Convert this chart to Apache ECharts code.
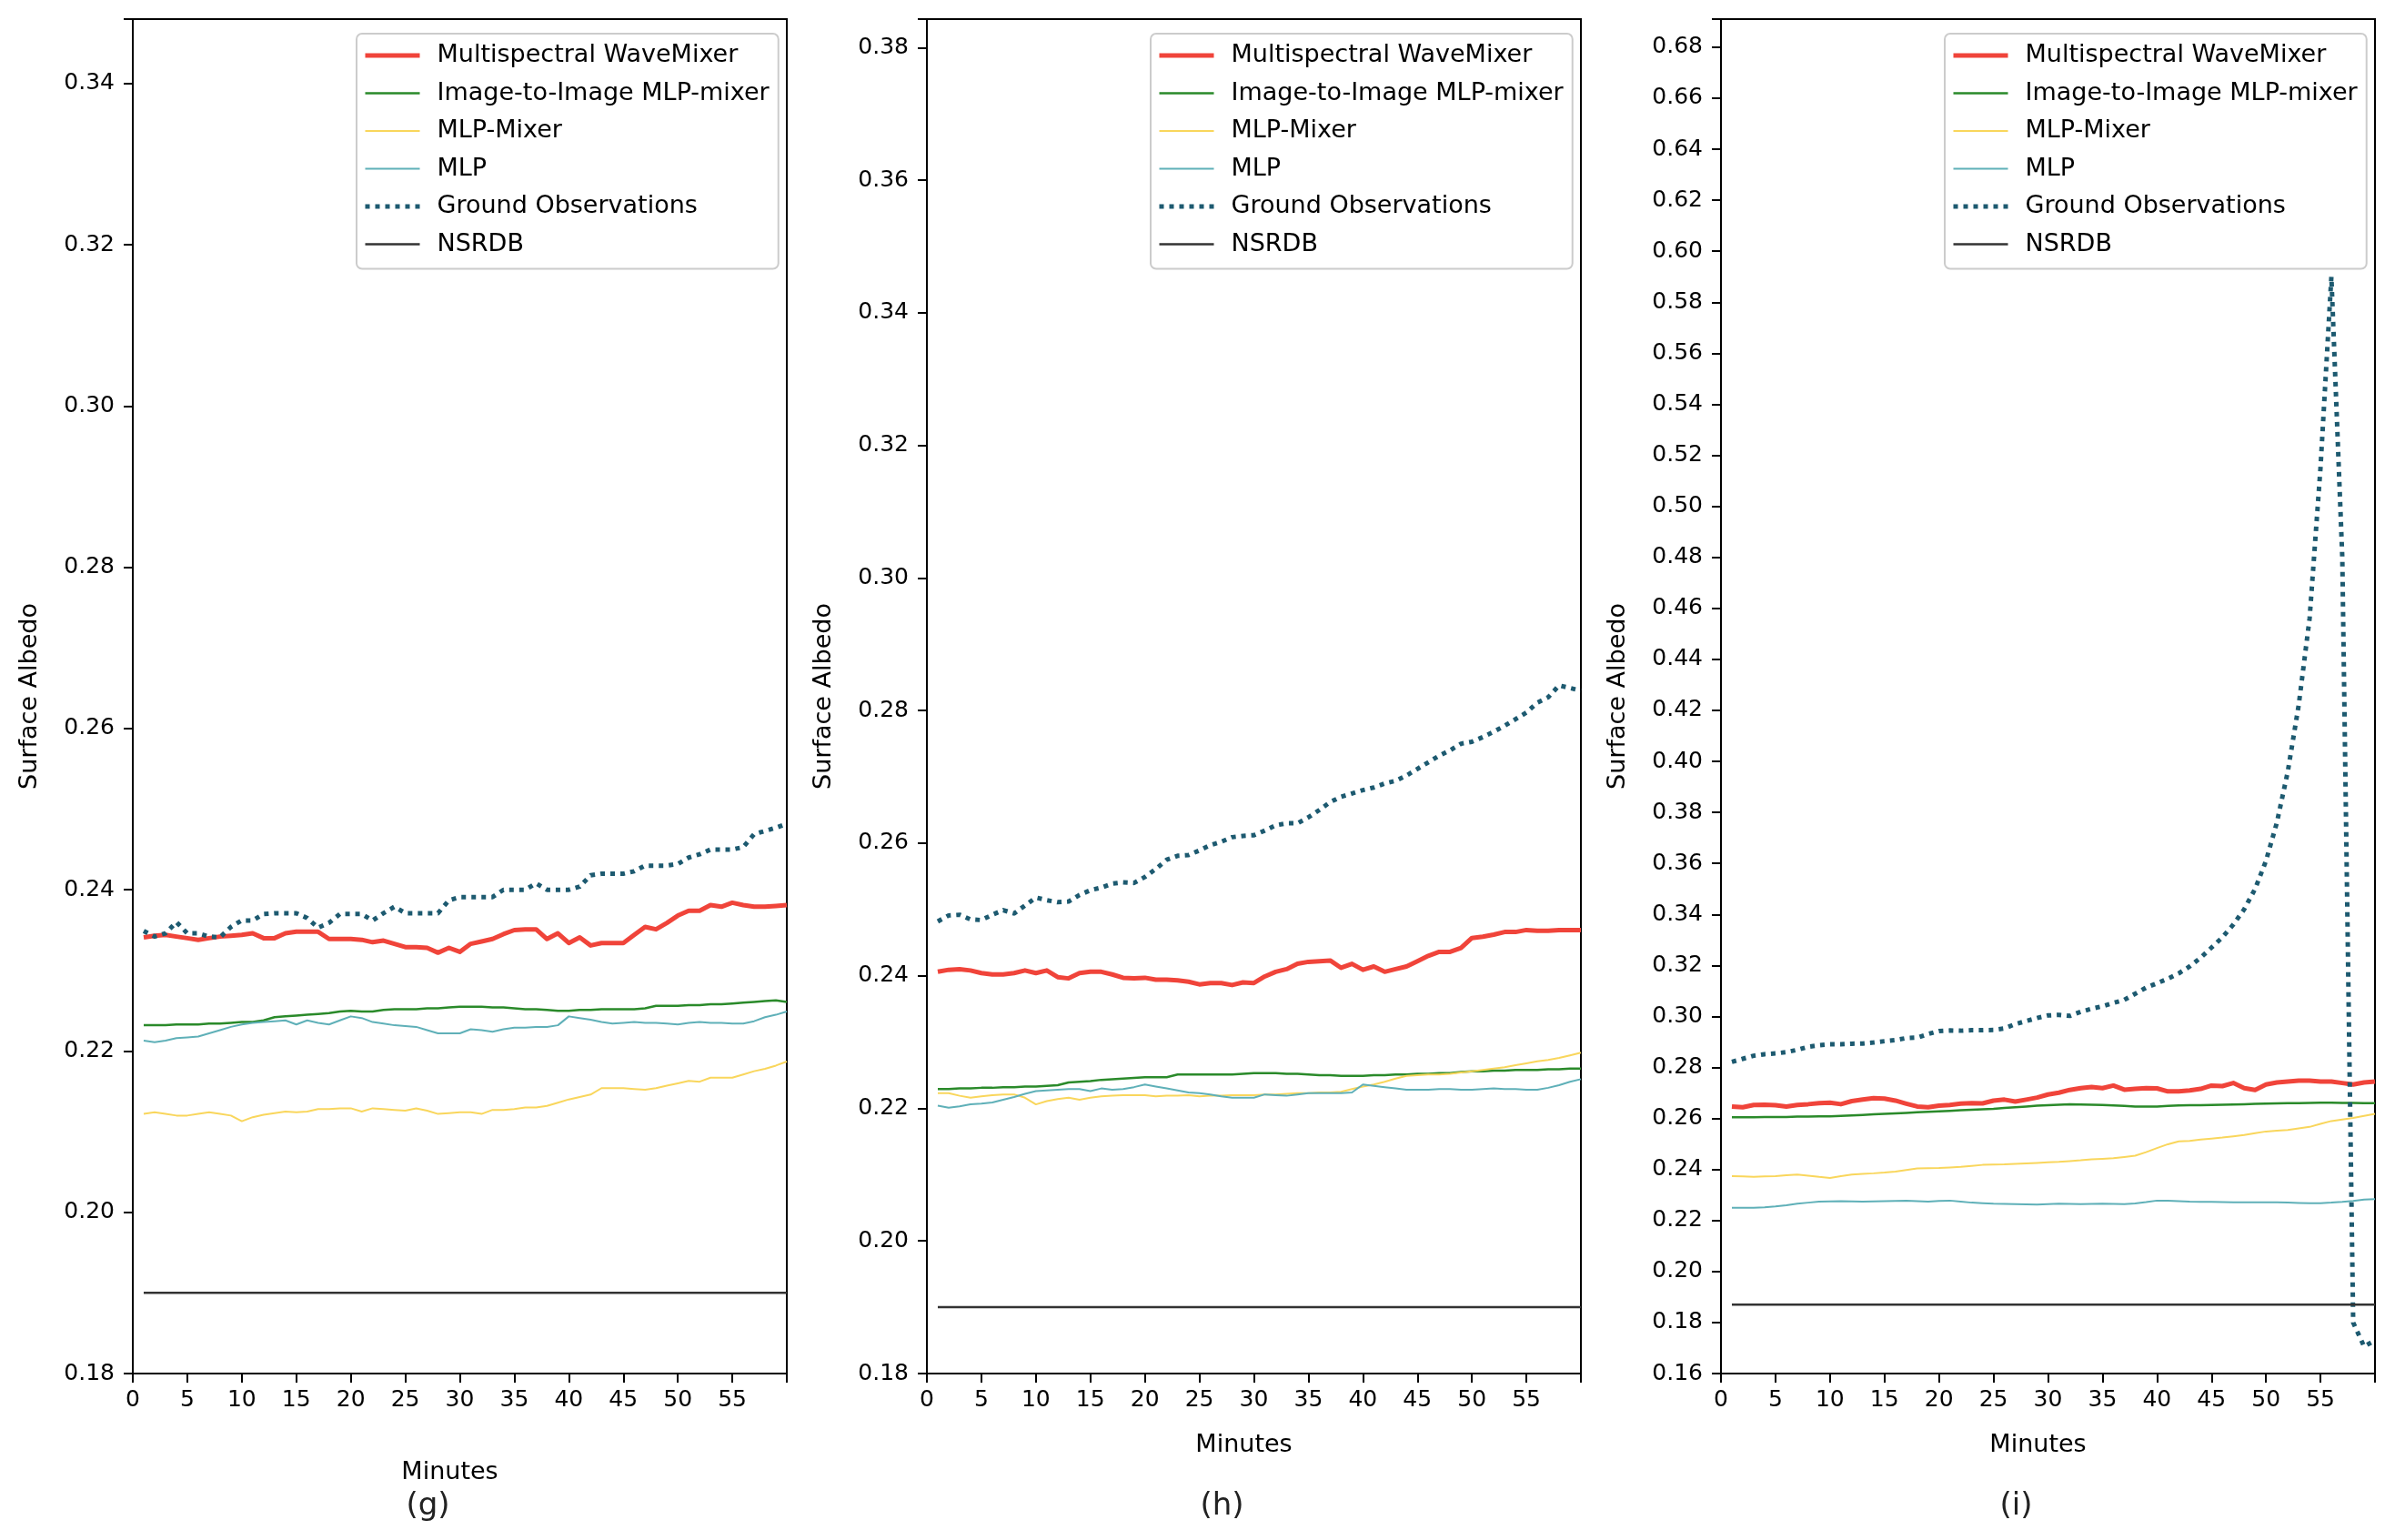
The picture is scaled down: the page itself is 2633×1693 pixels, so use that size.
<!DOCTYPE html>
<html>
<head>
<meta charset="utf-8">
<script src="https://cdn.jsdelivr.net/npm/echarts@6/dist/echarts.min.js"></script>
<style>
html,body{margin:0;padding:0;background:#fff;}
#chart{width:2633px;height:1693px;}
</style>
</head>
<body>
<div id="chart"></div>
<script>
// ---------- data ----------
const minutes = [1,2,3,4,5,6,7,8,9,10,11,12,13,14,15,16,17,18,19,20,21,22,23,24,25,26,27,28,29,30,31,32,33,34,35,36,37,38,39,40,41,42,43,44,45,46,47,48,49,50,51,52,53,54,55,56,57,58,59,60];
const xTicks = [0,5,10,15,20,25,30,35,40,45,50,55];
const seriesNames = ['Multispectral WaveMixer','Image-to-Image MLP-mixer','MLP-Mixer','MLP','Ground Observations','NSRDB'];
const panelLabels = ['(g)','(h)','(i)'];

// panel (g)
const gWaveMixer = [0.2341,0.2343,0.2344,0.2342,0.2340,0.2338,0.2340,0.2342,0.2343,0.2344,0.2346,0.2340,0.2340,0.2346,0.2348,0.2348,0.2348,0.2339,0.2339,0.2339,0.2338,0.2335,0.2337,0.2333,0.2329,0.2329,0.2328,0.2322,0.2328,0.2323,0.2333,0.2336,0.2339,0.2345,0.2350,0.2351,0.2351,0.2339,0.2346,0.2334,0.2341,0.2331,0.2334,0.2334,0.2334,0.2344,0.2354,0.2351,0.2359,0.2368,0.2374,0.2374,0.2381,0.2379,0.2384,0.2381,0.2379,0.2379,0.2380,0.2381];
const gI2IMixer = [0.2232,0.2232,0.2232,0.2233,0.2233,0.2233,0.2234,0.2234,0.2235,0.2236,0.2236,0.2238,0.2242,0.2243,0.2244,0.2245,0.2246,0.2247,0.2249,0.2250,0.2249,0.2249,0.2251,0.2252,0.2252,0.2252,0.2253,0.2253,0.2254,0.2255,0.2255,0.2255,0.2254,0.2254,0.2253,0.2252,0.2252,0.2251,0.2250,0.2250,0.2251,0.2251,0.2252,0.2252,0.2252,0.2252,0.2253,0.2256,0.2256,0.2256,0.2257,0.2257,0.2258,0.2258,0.2259,0.2260,0.2261,0.2262,0.2263,0.2261];
const gMLPMixer = [0.2122,0.2124,0.2122,0.2120,0.2120,0.2122,0.2124,0.2122,0.2120,0.2113,0.2118,0.2121,0.2123,0.2125,0.2124,0.2125,0.2128,0.2128,0.2129,0.2129,0.2125,0.2129,0.2128,0.2127,0.2126,0.2129,0.2126,0.2122,0.2123,0.2124,0.2124,0.2122,0.2127,0.2127,0.2128,0.2130,0.2130,0.2132,0.2136,0.2140,0.2143,0.2146,0.2154,0.2154,0.2154,0.2153,0.2152,0.2154,0.2157,0.2160,0.2163,0.2162,0.2167,0.2167,0.2167,0.2171,0.2175,0.2178,0.2182,0.2187];
const gMLP = [0.2213,0.2211,0.2213,0.2216,0.2217,0.2218,0.2222,0.2226,0.2230,0.2233,0.2235,0.2236,0.2237,0.2238,0.2233,0.2238,0.2235,0.2233,0.2238,0.2243,0.2241,0.2236,0.2234,0.2232,0.2231,0.2230,0.2226,0.2222,0.2222,0.2222,0.2227,0.2226,0.2224,0.2227,0.2229,0.2229,0.2230,0.2230,0.2232,0.2243,0.2241,0.2239,0.2236,0.2234,0.2235,0.2236,0.2235,0.2235,0.2234,0.2233,0.2235,0.2236,0.2235,0.2235,0.2234,0.2234,0.2237,0.2242,0.2245,0.2249];
const gGround = [0.2349,0.2342,0.2346,0.2360,0.2346,0.2346,0.2342,0.2341,0.2354,0.2362,0.2362,0.2370,0.2371,0.2371,0.2371,0.2365,0.2353,0.2359,0.2370,0.2370,0.2370,0.2362,0.2371,0.2379,0.2371,0.2371,0.2371,0.2371,0.2387,0.2391,0.2391,0.2391,0.2391,0.2400,0.2400,0.2400,0.2408,0.2400,0.2400,0.2400,0.2404,0.2418,0.2420,0.2420,0.2420,0.2423,0.2430,0.2430,0.2430,0.2432,0.2440,0.2444,0.2450,0.2450,0.2450,0.2453,0.2469,0.2473,0.2477,0.2482];
const gNSRDB = [0.19,0.19,0.19,0.19,0.19,0.19,0.19,0.19,0.19,0.19,0.19,0.19,0.19,0.19,0.19,0.19,0.19,0.19,0.19,0.19,0.19,0.19,0.19,0.19,0.19,0.19,0.19,0.19,0.19,0.19,0.19,0.19,0.19,0.19,0.19,0.19,0.19,0.19,0.19,0.19,0.19,0.19,0.19,0.19,0.19,0.19,0.19,0.19,0.19,0.19,0.19,0.19,0.19,0.19,0.19,0.19,0.19,0.19,0.19,0.19];

// panel (h)
const hWaveMixer = [0.2406,0.2409,0.2410,0.2408,0.2404,0.2402,0.2402,0.2404,0.2408,0.2404,0.2408,0.2398,0.2396,0.2404,0.2406,0.2406,0.2402,0.2397,0.2396,0.2397,0.2394,0.2394,0.2393,0.2391,0.2387,0.2389,0.2389,0.2386,0.2390,0.2389,0.2399,0.2406,0.2410,0.2418,0.2421,0.2422,0.2423,0.2412,0.2418,0.2409,0.2414,0.2406,0.2410,0.2414,0.2422,0.2430,0.2436,0.2436,0.2442,0.2457,0.2459,0.2462,0.2466,0.2466,0.2469,0.2468,0.2468,0.2469,0.2469,0.2469];
const hI2IMixer = [0.2229,0.2229,0.2230,0.2230,0.2231,0.2231,0.2232,0.2232,0.2233,0.2233,0.2234,0.2235,0.2239,0.2240,0.2241,0.2243,0.2244,0.2245,0.2246,0.2247,0.2247,0.2247,0.2251,0.2251,0.2251,0.2251,0.2251,0.2251,0.2252,0.2253,0.2253,0.2253,0.2252,0.2252,0.2251,0.2250,0.2250,0.2249,0.2249,0.2249,0.2250,0.2250,0.2251,0.2251,0.2252,0.2252,0.2253,0.2253,0.2255,0.2256,0.2256,0.2257,0.2257,0.2258,0.2258,0.2258,0.2259,0.2259,0.2260,0.2260];
const hMLPMixer = [0.2223,0.2223,0.2219,0.2216,0.2218,0.2220,0.2221,0.2221,0.2216,0.2206,0.2211,0.2214,0.2216,0.2213,0.2216,0.2218,0.2219,0.2220,0.2220,0.2220,0.2218,0.2219,0.2219,0.2220,0.2218,0.2219,0.2219,0.2220,0.2220,0.2220,0.2221,0.2221,0.2222,0.2223,0.2223,0.2224,0.2224,0.2225,0.2229,0.2233,0.2236,0.2240,0.2245,0.2249,0.2250,0.2251,0.2251,0.2252,0.2254,0.2256,0.2258,0.2260,0.2262,0.2265,0.2268,0.2271,0.2273,0.2276,0.2280,0.2284];
const hMLP = [0.2204,0.2201,0.2203,0.2206,0.2207,0.2209,0.2213,0.2217,0.2222,0.2226,0.2227,0.2228,0.2229,0.2229,0.2226,0.2230,0.2228,0.2229,0.2232,0.2236,0.2233,0.2230,0.2227,0.2224,0.2223,0.2221,0.2218,0.2216,0.2216,0.2216,0.2221,0.2220,0.2219,0.2221,0.2223,0.2223,0.2223,0.2223,0.2224,0.2236,0.2234,0.2232,0.2230,0.2228,0.2228,0.2228,0.2229,0.2229,0.2228,0.2228,0.2229,0.2230,0.2229,0.2229,0.2228,0.2228,0.2231,0.2235,0.2240,0.2244];
const hGround = [0.2482,0.2491,0.2492,0.2485,0.2484,0.2492,0.2499,0.2494,0.2506,0.2518,0.2514,0.2511,0.2512,0.2522,0.2529,0.2533,0.2539,0.2541,0.2540,0.2549,0.2561,0.2575,0.2581,0.2582,0.2589,0.2597,0.2602,0.2609,0.2611,0.2612,0.2619,0.2627,0.2630,0.2630,0.2639,0.2650,0.2662,0.2670,0.2675,0.2680,0.2684,0.2690,0.2694,0.2702,0.2712,0.2722,0.2732,0.2740,0.2750,0.2753,0.2760,0.2768,0.2777,0.2787,0.2797,0.2812,0.2820,0.2838,0.2834,0.2830];
const hNSRDB = [0.19,0.19,0.19,0.19,0.19,0.19,0.19,0.19,0.19,0.19,0.19,0.19,0.19,0.19,0.19,0.19,0.19,0.19,0.19,0.19,0.19,0.19,0.19,0.19,0.19,0.19,0.19,0.19,0.19,0.19,0.19,0.19,0.19,0.19,0.19,0.19,0.19,0.19,0.19,0.19,0.19,0.19,0.19,0.19,0.19,0.19,0.19,0.19,0.19,0.19,0.19,0.19,0.19,0.19,0.19,0.19,0.19,0.19,0.19,0.19];

// panel (i)
const iWaveMixer = [0.2647,0.2644,0.2653,0.2654,0.2652,0.2647,0.2653,0.2656,0.2660,0.2662,0.2656,0.2668,0.2674,0.2680,0.2678,0.2670,0.2658,0.2647,0.2644,0.2650,0.2653,0.2658,0.2660,0.2659,0.2670,0.2674,0.2666,0.2674,0.2682,0.2694,0.2701,0.2712,0.2719,0.2723,0.2719,0.2729,0.2713,0.2716,0.2719,0.2718,0.2706,0.2706,0.2710,0.2716,0.2729,0.2727,0.2739,0.2719,0.2712,0.2733,0.2741,0.2745,0.2748,0.2748,0.2745,0.2745,0.2739,0.2733,0.2741,0.2745];
const iI2IMixer = [0.2605,0.2605,0.2605,0.2606,0.2606,0.2606,0.2607,0.2607,0.2608,0.2608,0.2610,0.2612,0.2614,0.2616,0.2618,0.2620,0.2622,0.2624,0.2626,0.2628,0.2630,0.2632,0.2634,0.2636,0.2638,0.2641,0.2644,0.2647,0.2650,0.2652,0.2654,0.2656,0.2655,0.2654,0.2653,0.2651,0.2649,0.2647,0.2647,0.2647,0.2649,0.2651,0.2652,0.2652,0.2653,0.2654,0.2655,0.2656,0.2657,0.2658,0.2659,0.2660,0.2660,0.2661,0.2662,0.2662,0.2661,0.2661,0.2660,0.2660];
const iMLPMixer = [0.2374,0.2373,0.2371,0.2373,0.2374,0.2377,0.2380,0.2376,0.2371,0.2367,0.2374,0.2380,0.2383,0.2385,0.2388,0.2392,0.2398,0.2404,0.2405,0.2406,0.2408,0.2410,0.2414,0.2418,0.2419,0.2420,0.2422,0.2424,0.2426,0.2428,0.2430,0.2433,0.2436,0.2440,0.2442,0.2444,0.2449,0.2454,0.2468,0.2484,0.2499,0.2510,0.2512,0.2517,0.2521,0.2525,0.2530,0.2535,0.2542,0.2549,0.2552,0.2555,0.2561,0.2567,0.2579,0.2590,0.2596,0.2602,0.2610,0.2618];
const iMLP = [0.2250,0.2250,0.2250,0.2252,0.2255,0.2260,0.2266,0.2270,0.2274,0.2275,0.2276,0.2275,0.2274,0.2275,0.2276,0.2277,0.2278,0.2276,0.2274,0.2277,0.2278,0.2274,0.2270,0.2268,0.2266,0.2265,0.2264,0.2263,0.2262,0.2264,0.2266,0.2265,0.2264,0.2265,0.2266,0.2265,0.2264,0.2267,0.2272,0.2278,0.2278,0.2276,0.2274,0.2273,0.2273,0.2272,0.2271,0.2271,0.2271,0.2271,0.2271,0.2270,0.2269,0.2268,0.2268,0.2270,0.2273,0.2277,0.2282,0.2284];
const iGround = [0.2822,0.2834,0.2846,0.2852,0.2855,0.2860,0.2869,0.2881,0.2887,0.2891,0.2891,0.2893,0.2894,0.2898,0.2903,0.2907,0.2915,0.2917,0.2931,0.2943,0.2945,0.2944,0.2946,0.2946,0.2947,0.2953,0.2970,0.2982,0.2994,0.3004,0.3006,0.3002,0.3018,0.3030,0.3040,0.3053,0.3065,0.3089,0.3113,0.3130,0.3148,0.3169,0.3196,0.3230,0.3270,0.3310,0.3360,0.3420,0.3500,0.3610,0.3760,0.3960,0.4220,0.4560,0.5150,0.5900,0.4800,0.1800,0.1706,0.1730];
const iNSRDB = [0.187,0.187,0.187,0.187,0.187,0.187,0.187,0.187,0.187,0.187,0.187,0.187,0.187,0.187,0.187,0.187,0.187,0.187,0.187,0.187,0.187,0.187,0.187,0.187,0.187,0.187,0.187,0.187,0.187,0.187,0.187,0.187,0.187,0.187,0.187,0.187,0.187,0.187,0.187,0.187,0.187,0.187,0.187,0.187,0.187,0.187,0.187,0.187,0.187,0.187,0.187,0.187,0.187,0.187,0.187,0.187,0.187,0.187,0.187,0.187];

// y-axis ranges of the three panels
const yMins = [0.18, 0.18, 0.16];
const yMaxs = [0.348, 0.3843, 0.691];
const yStep = 0.02;

// ---------- styling / layout ----------
const FONT = 'DejaVu Sans';
const lineStyles = [
  {color:'#f0443a', width:5, type:'solid'},
  {color:'#2a8a2a', width:2.5, type:'solid'},
  {color:'#f9d65c', width:2, type:'solid'},
  {color:'#5fb0b8', width:2, type:'solid'},
  {color:'#1d5a70', width:5, type:[5,6]},
  {color:'#333333', width:2.5, type:'solid'}
];
const panels = [
  [gWaveMixer,gI2IMixer,gMLPMixer,gMLP,gGround,gNSRDB],
  [hWaveMixer,hI2IMixer,hMLPMixer,hMLP,hGround,hNSRDB],
  [iWaveMixer,iI2IMixer,iMLPMixer,iMLP,iGround,iNSRDB]
];
const gridLefts = [146, 1019, 1892];
const gridW = 719, gridTop = 21, gridH = 1489;
const xNameGaps = [95, 65, 65];

const legendData = seriesNames.map((n, s) => ({
  name: n,
  lineStyle: {color: lineStyles[s].color, width: lineStyles[s].width, type: lineStyles[s].type, cap: 'butt'},
  itemStyle: {opacity: 0}
}));

const grids = [], xAxes = [], yAxes = [], series = [], legends = [], titles = [];
panels.forEach((arrs, p) => {
  grids.push({left: gridLefts[p], top: gridTop, width: gridW, height: gridH, show: true,
    borderColor: '#000', borderWidth: 2, backgroundColor: 'transparent'});
  xAxes.push({
    gridIndex: p, type: 'value', min: 0, max: 60, interval: 5,
    name: 'Minutes', nameLocation: 'middle', nameGap: xNameGaps[p],
    nameTextStyle: {fontFamily: FONT, fontSize: 27, color: '#000', padding: [0, 22, 0, 0]},
    axisLine: {show: true, onZero: false, lineStyle: {color: '#000', width: 2}},
    axisTick: {show: true, inside: false, length: 10, lineStyle: {color: '#000', width: 2}},
    axisLabel: {fontFamily: FONT, fontSize: 25, color: '#000', margin: 17,
      formatter: v => xTicks.indexOf(v) >= 0 ? String(v) : ''},
    splitLine: {show: false}
  });
  yAxes.push({
    gridIndex: p, type: 'value', min: yMins[p], max: yMaxs[p], interval: yStep,
    name: 'Surface Albedo', nameLocation: 'middle', nameGap: 100,
    nameTextStyle: {fontFamily: FONT, fontSize: 27, color: '#000'},
    axisLine: {show: true, onZero: false, lineStyle: {color: '#000', width: 2}},
    axisTick: {show: true, inside: false, length: 10, lineStyle: {color: '#000', width: 2}},
    axisLabel: {fontFamily: FONT, fontSize: 25, color: '#000', margin: 20,
      formatter: v => {
        const r = Math.round(v / yStep);
        return Math.abs(v - r * yStep) < 1e-6 ? (r * yStep).toFixed(2) : '';
      }},
    splitLine: {show: false}
  });
  arrs.forEach((vals, s) => {
    series.push({
      type: 'line', name: seriesNames[s], xAxisIndex: p, yAxisIndex: p,
      data: minutes.map((m, k) => [m, vals[k]]),
      symbol: 'none', showSymbol: false, smooth: false, animation: false,
      lineStyle: Object.assign({cap: 'butt', join: 'round'}, lineStyles[s]),
      itemStyle: {color: lineStyles[s].color},
      z: 2 + s
    });
  });
  legends.push({
    data: legendData, orient: 'vertical', left: gridLefts[p] + 246, top: 37,
    itemWidth: 60, itemHeight: 14, itemGap: 11.5,
    padding: [9, 10, 12, 7],
    itemStyle: {opacity: 0},
    backgroundColor: 'rgba(255,255,255,0.8)', borderColor: '#cccccc', borderWidth: 2, borderRadius: 6,
    textStyle: {fontFamily: FONT, fontSize: 27, color: '#000', lineHeight: 30, padding: [0, 0, 0, 14]},
    selectedMode: false
  });
  titles.push({
    text: panelLabels[p], left: gridLefts[p] + gridW / 2 - 40, top: 1634, textAlign: 'center',
    textStyle: {fontFamily: FONT, fontSize: 34, fontWeight: 'normal', color: '#222'}
  });
});

const chart = echarts.init(document.getElementById('chart'), null, {renderer: 'canvas'});
chart.setOption({
  backgroundColor: '#fff',
  animation: false,
  title: titles,
  grid: grids,
  xAxis: xAxes,
  yAxis: yAxes,
  legend: legends,
  series: series
});
</script>
</body>
</html>
